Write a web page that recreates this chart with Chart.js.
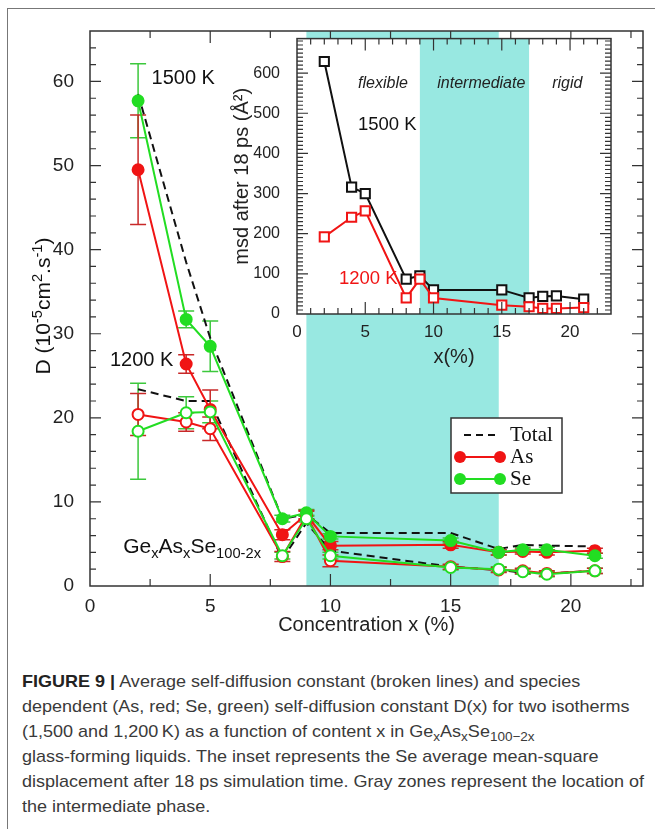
<!DOCTYPE html>
<html>
<head>
<meta charset="utf-8">
<script src="https://cdn.jsdelivr.net/npm/chart.js@4.4.0/dist/chart.umd.min.js"></script>
<style>
  html, body { margin: 0; padding: 0; background: #fff; }
  body { width: 655px; height: 829px; position: relative; overflow: hidden; font-family: "Liberation Sans", Arial, sans-serif; }
  #frame { position: absolute; left: 7px; top: 8px; width: 660px; height: 840px; border-left: 1.5px solid #777; border-top: 1.5px solid #777; }
  #main { position: absolute; left: 0; top: 0; }
  #inset { position: absolute; left: 225px; top: 20px; }
  #caption { position: absolute; left: 22px; top: 669px; color: #3a3a3a; font-size: 17px; line-height: 25px; }
  #caption .ln { white-space: nowrap; width: max-content; transform-origin: 0 50%; }
  #caption b { color: #222; }
  #caption sub { font-size: 0.75em; vertical-align: -0.3em; line-height: 0; }
</style>
</head>
<body>
<div id="frame"></div>
<canvas id="main" width="655" height="650"></canvas>
<canvas id="inset" width="400" height="355"></canvas>
<div id="caption">
  <div class="ln"><b>FIGURE 9 |</b> Average self-diffusion constant (broken lines) and species</div>
  <div class="ln">dependent (As, red; Se, green) self-diffusion constant D(x) for two isotherms</div>
  <div class="ln">(1,500 and 1,200&#8201;K) as a function of content x in Ge<sub>x</sub>As<sub>x</sub>Se<sub>100−2x</sub></div>
  <div class="ln">glass-forming liquids. The inset represents the Se average mean-square</div>
  <div class="ln">displacement after 18 ps simulation time. Gray zones represent the location of</div>
  <div class="ln">the intermediate phase.</div>
</div>
<script>
// concentration x (%) shared by every series
const xs = [2, 4, 5, 8, 9, 10, 15, 17, 18, 19, 21];

// D (10^-5 cm2/s), 1500 K (filled symbols)
const total1500 = [58.5, 38.5, 29.5, 8.0, 8.5, 6.3, 6.3, 4.4, 4.9, 4.8, 4.7];
const as1500 = [49.5, 26.4, 21.0, 6.1, 8.5, 4.8, 4.9, 4.0, 4.1, 4.0, 4.2];
const se1500 = [57.7, 31.7, 28.5, 8.0, 8.7, 5.9, 5.4, 4.0, 4.3, 4.3, 3.6];
const errAs1500 = [6.5, 1.1, 2.3, 0.6, 0.5, 0.5, 0.4, 0.3, 0.3, 0.3, 0.3];
const errSe1500 = [4.4, 1.0, 3.0, 0.4, 0.4, 0.3, 0.3, 0.3, 0.3, 0.3, 0.3];

// D, 1200 K (open symbols)
const total1200 = [23.4, 22.0, 22.0, 3.2, 7.5, 4.2, 2.3, 1.9, 1.6, 1.5, 1.8];
const as1200 = [20.4, 19.5, 18.7, 3.5, 8.4, 3.0, 2.3, 1.9, 1.8, 1.5, 1.8];
const se1200 = [18.4, 20.6, 20.7, 3.6, 8.0, 3.6, 2.2, 2.0, 1.7, 1.4, 1.8];
const errAs1200 = [2.5, 1.1, 1.4, 0.6, 0.5, 0.7, 0.3, 0.3, 0.3, 0.3, 0.3];
const errSe1200 = [5.7, 1.9, 1.3, 0.4, 0.4, 0.4, 0.3, 0.3, 0.3, 0.3, 0.3];

// inset: Se msd after 18 ps (A^2)
const msd1500 = [629, 316, 300, 87, 95, 60, 60, 40, 44, 45, 37];
const msd1200 = [192, 241, 257, 40, 87, 40, 22, 18, 14, 14, 16];

// intermediate phase window
const ipBand = [9, 17];

const RED = '#f01414';
const GREEN = '#22dd22';
const BAND = '#98e8e1';
const SANS = '"Liberation Sans", Arial, sans-serif';

Chart.defaults.font.family = SANS;
Chart.defaults.color = '#222';

const pts = ys => xs.map((x, i) => ({ x, y: ys[i] }));

function drawBand(chart) {
  const { ctx, chartArea: a, scales: { x } } = chart;
  const x0 = x.getPixelForValue(ipBand[0]);
  const x1 = x.getPixelForValue(ipBand[1]);
  ctx.save();
  ctx.fillStyle = BAND;
  ctx.fillRect(x0, a.top, x1 - x0, a.bottom - a.top);
  ctx.restore();
}

function drawFrame(chart, t) {
  const { ctx, chartArea: a, scales: { x, y } } = chart;
  ctx.save();
  ctx.strokeStyle = '#333';
  ctx.lineWidth = 1.5;
  ctx.strokeRect(a.left, a.top, a.right - a.left, a.bottom - a.top);
  ctx.lineWidth = 1.2;
  ctx.beginPath();
  const isMajor = (v, m) => Math.abs(v / m - Math.round(v / m)) < 1e-6;
  for (let v = x.min + t.xMinor; v < x.max - 1e-6; v += t.xMinor) {
    const len = isMajor(v, t.xMajor) ? t.xLen[0] : t.xLen[1];
    const px = x.getPixelForValue(v);
    ctx.moveTo(px, a.bottom); ctx.lineTo(px, a.bottom - len);
    ctx.moveTo(px, a.top); ctx.lineTo(px, a.top + len);
  }
  for (let v = y.min + t.yMinor; v < y.max - 1e-6; v += t.yMinor) {
    const len = isMajor(v, t.yMajor) ? t.yLen[0] : t.yLen[1];
    const py = y.getPixelForValue(v);
    ctx.moveTo(a.left, py); ctx.lineTo(a.left + len, py);
    ctx.moveTo(a.right, py); ctx.lineTo(a.right - len, py);
  }
  ctx.stroke();
  ctx.restore();
}

// text with sub/superscript runs: kind 1 = sup, -1 = sub
function runsWidth(ctx, runs, size) {
  let w = 0;
  for (const [t, k] of runs) {
    ctx.font = `${k ? size * 0.7 : size}px ${SANS}`;
    w += ctx.measureText(t).width;
  }
  return w;
}
function drawRuns(ctx, runs, x, y, size) {
  let cx = x;
  for (const [t, k] of runs) {
    ctx.font = `${k ? size * 0.7 : size}px ${SANS}`;
    const dy = k === 1 ? -size * 0.4 : k === -1 ? size * 0.25 : 0;
    ctx.fillText(t, cx, y + dy);
    cx += ctx.measureText(t).width;
  }
}

const errorBars = {
  id: 'errorBars',
  beforeDatasetsDraw(chart) {
    drawBand(chart);
    const { ctx, scales: { x, y } } = chart;
    ctx.save();
    ctx.lineWidth = 1.5;
    chart.data.datasets.forEach(ds => {
      if (!ds.errors) return;
      ctx.strokeStyle = ds.errorColor;
      ds.data.forEach((p, i) => {
        const e = ds.errors[i];
        const px = x.getPixelForValue(p.x);
        const top = y.getPixelForValue(p.y + e);
        const bot = y.getPixelForValue(p.y - e);
        ctx.beginPath();
        ctx.moveTo(px, top); ctx.lineTo(px, bot);
        ctx.moveTo(px - 8, top); ctx.lineTo(px + 8, top);
        ctx.moveTo(px - 8, bot); ctx.lineTo(px + 8, bot);
        ctx.stroke();
      });
    });
    ctx.restore();
  },
  afterDraw(chart) {
    drawFrame(chart, { xMinor: 2.5, xMajor: 5, xLen: [12, 7], yMinor: 2, yMajor: 10, yLen: [11, 6] });
    const { ctx, scales: { x, y } } = chart;
    ctx.save();
    ctx.fillStyle = '#111';
    ctx.textBaseline = 'middle';
    ctx.font = `20px ${SANS}`;
    ctx.fillText('1500 K', x.getPixelForValue(2.56), y.getPixelForValue(60.3));
    ctx.fillText('1200 K', x.getPixelForValue(0.83), y.getPixelForValue(26.8));
    ctx.textBaseline = 'alphabetic';
    drawRuns(ctx, [['Ge', 0], ['x', -1], ['As', 0], ['x', -1], ['Se', 0], ['100-2x', -1]],
      x.getPixelForValue(1.38), y.getPixelForValue(3.9), 21);

    // rotated y title with superscripts
    const yRuns = [['D (10', 0], ['-5', 1], ['cm', 0], ['2', 1], ['.s', 0], ['-1', 1], [')', 0]];
    const w = runsWidth(ctx, yRuns, 21);
    ctx.translate(50, 306 + w / 2);
    ctx.rotate(-Math.PI / 2);
    drawRuns(ctx, yRuns, 0, 0, 21);
    ctx.restore();

    // legend
    ctx.save();
    ctx.fillStyle = '#fff';
    ctx.fillRect(451, 418, 111, 75);
    ctx.strokeStyle = '#333';
    ctx.lineWidth = 1.5;
    ctx.strokeRect(451, 418, 111, 75);
    ctx.strokeStyle = '#111';
    ctx.lineWidth = 2;
    ctx.setLineDash([7, 5]);
    ctx.beginPath(); ctx.moveTo(464, 435); ctx.lineTo(500, 435); ctx.stroke();
    ctx.setLineDash([]);
    [[RED, 457], [GREEN, 479]].forEach(([c, ly]) => {
      ctx.strokeStyle = c; ctx.fillStyle = c;
      ctx.beginPath(); ctx.moveTo(460, ly); ctx.lineTo(500, ly); ctx.stroke();
      [460, 500].forEach(cx => { ctx.beginPath(); ctx.arc(cx, ly, 6, 0, Math.PI * 2); ctx.fill(); });
    });
    ctx.fillStyle = '#111';
    ctx.font = '21px "Liberation Serif", "Times New Roman", serif';
    ctx.textBaseline = 'middle';
    ctx.fillText('Total', 510, 435);
    ctx.fillText('As', 510, 457);
    ctx.fillText('Se', 510, 479);
    ctx.restore();
  }
};

function series(label, ys, color, filled, errs, errColor) {
  return {
    label, data: pts(ys), borderColor: color, borderWidth: 2,
    pointRadius: 5.5, pointBorderWidth: 2, pointBorderColor: color,
    pointBackgroundColor: filled ? color : '#fff',
    errors: errs, errorColor: errColor, tension: 0
  };
}
function dashed(label, ys) {
  return { label, data: pts(ys), borderColor: '#111', borderWidth: 2, borderDash: [8, 5], pointRadius: 0, tension: 0 };
}

new Chart(document.getElementById('main'), {
  type: 'line',
  data: {
    datasets: [
      series('Se 1200 K', se1200, GREEN, false, errSe1200, '#3cc83c'),
      series('Se 1500 K', se1500, GREEN, true, errSe1500, '#3cc83c'),
      series('As 1200 K', as1200, RED, false, errAs1200, '#c82828'),
      series('As 1500 K', as1500, RED, true, errAs1500, '#c82828'),
      dashed('Total 1200 K', total1200),
      dashed('Total 1500 K', total1500)
    ]
  },
  options: {
    responsive: false,
    animation: false,
    layout: { padding: { left: 0, top: 31, right: 12, bottom: 0 } },
    plugins: { legend: { display: false }, tooltip: { enabled: false } },
    scales: {
      x: {
        type: 'linear', min: 0, max: 23,
        grid: { display: false }, border: { display: false },
        ticks: { stepSize: 5, includeBounds: false, padding: 1, maxRotation: 0, font: { size: 19 } },
        title: { display: true, text: 'Concentration x (%)', font: { size: 20 }, padding: { top: 0, bottom: 13 } },
        afterFit: s => { s.height = 64; }
      },
      y: {
        type: 'linear', min: 0, max: 66,
        grid: { display: false }, border: { display: false },
        ticks: { stepSize: 10, includeBounds: false, padding: 8, font: { size: 19 } },
        afterFit: s => { s.width = 90; }
      }
    }
  },
  plugins: [errorBars]
});

const insetDeco = {
  id: 'insetDeco',
  beforeDraw(chart) {
    const { ctx, chartArea: a } = chart;
    ctx.save();
    ctx.fillStyle = '#fff';
    ctx.fillRect(a.left, a.top, a.right - a.left, a.bottom - a.top);
    ctx.restore();
  },
  beforeDatasetsDraw(chart) { drawBand(chart); },
  afterDraw(chart) {
    drawFrame(chart, { xMinor: 1, xMajor: 5, xLen: [12, 6], yMinor: 10, yMajor: 100, yLen: [11, 6] });
    const { ctx, scales: { x, y } } = chart;
    ctx.save();
    ctx.textBaseline = 'middle';
    ctx.fillStyle = '#222';
    ctx.textAlign = 'center';
    ctx.font = `italic 16px ${SANS}`;
    ctx.fillText('flexible', x.getPixelForValue(6.3), y.getPixelForValue(573));
    ctx.fillText('intermediate', x.getPixelForValue(13.5), y.getPixelForValue(573));
    ctx.fillText('rigid', x.getPixelForValue(19.8), y.getPixelForValue(573));
    ctx.textAlign = 'left';
    ctx.font = `18.5px ${SANS}`;
    ctx.fillStyle = '#111';
    ctx.fillText('1500 K', x.getPixelForValue(4.46), y.getPixelForValue(471));
    ctx.fillStyle = RED;
    ctx.fillText('1200 K', x.getPixelForValue(3.07), y.getPixelForValue(88));
    ctx.restore();
  }
};

function squares(label, ys, color) {
  return {
    label, data: pts(ys), borderColor: color, borderWidth: 2,
    pointStyle: 'rect', pointRadius: 6.5, pointBorderWidth: 2, pointBorderColor: color,
    pointBackgroundColor: '#fff', tension: 0
  };
}

new Chart(document.getElementById('inset'), {
  type: 'line',
  data: {
    datasets: [
      squares('1200 K', msd1200, RED),
      squares('1500 K', msd1500, '#111')
    ]
  },
  options: {
    responsive: false,
    animation: false,
    layout: { padding: { left: 0, top: 11, right: 14, bottom: 0 } },
    plugins: { legend: { display: false }, tooltip: { enabled: false } },
    scales: {
      x: {
        type: 'linear', min: 0, max: 23,
        grid: { display: false }, border: { display: false },
        ticks: { stepSize: 5, includeBounds: false, padding: 0, maxRotation: 0, font: { size: 17 } },
        title: { display: true, text: 'x(%)', font: { size: 20 }, padding: { top: 0, bottom: 6 } },
        afterFit: s => { s.height = 61; }
      },
      y: {
        type: 'linear', min: 0, max: 686,
        grid: { display: false }, border: { display: false },
        ticks: { stepSize: 100, includeBounds: false, padding: 9, font: { size: 16 } },
        title: { display: true, text: 'msd after 18 ps (\u00c5\u00b2)', font: { size: 20 }, padding: { top: 5, bottom: 0 } },
        afterFit: s => { s.width = 72; }
      }
    }
  },
  plugins: [insetDeco]
});

// squeeze caption lines to the reference's narrow type
const lines = document.querySelectorAll('#caption .ln');
const k = 622 / lines[4].getBoundingClientRect().width;
lines.forEach(l => { l.style.transform = `scaleX(${k})`; });
</script>
</body>
</html>
